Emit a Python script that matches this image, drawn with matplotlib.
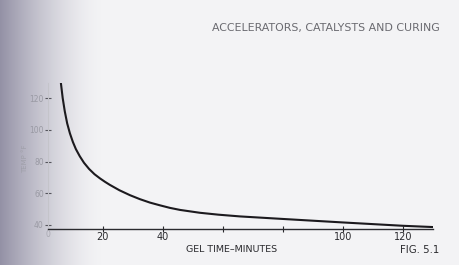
import numpy as np
import matplotlib
matplotlib.use("Agg")
import matplotlib.pyplot as plt

# values
gel_time = [6.0, 6.6, 7.3, 8.1, 9.0, 10.0, 11.0, 12.3, 13.7, 15.4, 17.2, 19.0, 20.7, 22.3,
            25.5, 29.0, 32.3, 35.7, 39.0, 42.3, 45.7, 52.3, 58.5, 65.7, 80, 100, 120, 130]
temp_f = [129.5, 120.0, 111.6, 104.0, 97.8, 92.3, 87.8, 83.3, 79.2, 75.3, 72.0, 69.4, 67.2, 65.3,
          61.9, 58.8, 56.3, 54.1, 52.4, 50.8, 49.5, 47.7, 46.5, 45.4, 43.8, 41.6, 39.5, 38.7]

xticks = [20, 40, 60, 80, 100, 120]
xlabels = ["20", "40", "", "", "100", "120"]
yticks = [40, 60, 80, 100, 120]

fig = plt.figure(figsize=(4.6, 2.65), dpi=100)

# paper background with the shadow of the book's gutter on the left
bg = fig.add_axes([0, 0, 1, 1], zorder=-10)
xs = np.linspace(0, 1, 460)
shade = np.clip(1 - xs / 0.22, 0, 1) ** 1.5
paper = np.array([0.953, 0.953, 0.961])
gutter = np.array([0.58, 0.57, 0.65])
row = paper[None, :] * (1 - shade[:, None]) + gutter[None, :] * shade[:, None]
bg.imshow(np.repeat(row[None, :, :], 2, axis=0), aspect="auto", extent=[0, 1, 0, 1])
bg.set_axis_off()

ax = fig.add_axes([0.1043, 0.136, 0.837, 0.551])
ax.patch.set_alpha(0)
ax.plot(gel_time, temp_f, color="#1c1a1e", lw=1.5, solid_capstyle="round", solid_joinstyle="round")
ax.set_xlim(1.7, 130)
ax.set_ylim(37.5, 129.5)

for s in ["top", "right"]:
    ax.spines[s].set_visible(False)
ax.spines["left"].set_color("#c4c4ca")
ax.spines["left"].set_linewidth(0.8)
ax.spines["bottom"].set_color("#2a2a2e")
ax.spines["bottom"].set_linewidth(1.0)

ax.set_xticks(xticks)
ax.set_xticklabels(xlabels)
ax.tick_params(axis="x", direction="inout", length=5, width=0.8, color="#2a2a2e",
               labelsize=7, labelcolor="#2a2a2e", pad=0)
ax.set_yticks(yticks)
ax.tick_params(axis="y", direction="inout", length=4, width=0.8, color="#55555c",
               labelsize=5.5, labelcolor="#9a9aa4", pad=1)

fig.text(0.104, 0.115, "0", fontsize=5.5, color="#a8a8b0", ha="center", va="center")
fig.text(0.055, 0.40, "TEMP °F", rotation=90, fontsize=5, color="#a0a0aa", ha="center", va="center")

fig.text(0.957, 0.894, "ACCELERATORS, CATALYSTS AND CURING", fontsize=7.9, color="#6a6a70",
         ha="right", va="center")
fig.text(0.504, 0.058, "GEL TIME–MINUTES", fontsize=6.8, color="#2a2a2e", ha="center", va="center")
fig.text(0.955, 0.058, "FIG. 5.1", fontsize=7.3, color="#2a2a2e", ha="right", va="center")

fig.savefig("out.png", dpi=100)
